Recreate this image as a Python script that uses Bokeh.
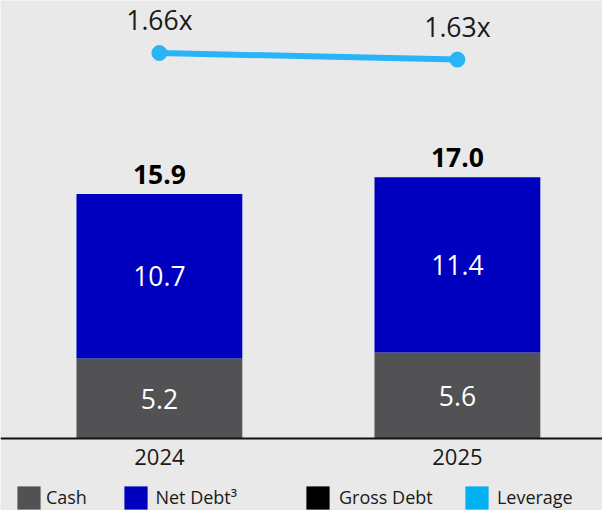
from bokeh.plotting import figure
from bokeh.models import (ColumnDataSource, Range1d, LinearAxis, FixedTicker,
                          Legend, LegendItem)
from bokeh.core.properties import value
from bokeh.embed import file_html
from bokeh.resources import INLINE

# ---- data ----
years = ["2024", "2025"]
cash = [5.2, 5.6]
net_debt = [10.7, 11.4]
gross_debt = [15.9, 17.0]
leverage = [1.66, 1.63]

# ---- style ----
CASH_C = "#525254"
NET_C = "#0000bf"
GROSS_C = "#000000"
LEV_C = "#00b0f0"
LINE_C = "#29b4f6"
BG = "#e9e9e9"
FONT = "Open Sans"
TXT = "#1a1a1a"

pos = list(range(len(years)))
src = ColumnDataSource(dict(
    x=pos,
    cash=cash,
    gross=gross_debt,
    lev=leverage,
    cash_mid=[c / 2 for c in cash],
    net_bottom=cash,
    net_top=[c + n for c, n in zip(cash, net_debt)],
    net_mid=[c + n / 2 for c, n in zip(cash, net_debt)],
    cash_lbl=[f"{v:.1f}" for v in cash],
    net_lbl=[f"{v:.1f}" for v in net_debt],
    gross_lbl=[f"{v:.1f}" for v in gross_debt],
    lev_lbl=[f"{v:.2f}x" for v in leverage],
))

p = figure(width=602, height=510, output_backend="svg", toolbar_location=None,
           x_range=Range1d(-0.5332, 1.4869), y_range=Range1d(-4.675, 28.485),
           x_axis_location=None, y_axis_location=None, min_border=0,
           background_fill_color=BG, border_fill_color=BG, outline_line_color=None)
p.grid.visible = False
p.extra_y_ranges = {"lev": Range1d(-0.4196, 1.8986)}

BW = 0.5564
gross_r = p.vbar(x="x", top="gross", bottom=0, width=BW, source=src,
                 fill_color=GROSS_C, line_color=None, visible=False)
lev_sq = p.vbar(x="x", top="lev", bottom=0, width=BW, source=src, y_range_name="lev",
                fill_color=LEV_C, line_color=None, visible=False)
cash_r = p.vbar(x="x", top="cash", bottom=0, width=BW, source=src,
                fill_color=CASH_C, line_color=None)
net_r = p.vbar(x="x", top="net_top", bottom="net_bottom", width=BW, source=src,
               fill_color=NET_C, line_color=None)

p.line("x", "lev", source=src, y_range_name="lev", line_width=6, line_color=LINE_C)
p.scatter("x", "lev", source=src, y_range_name="lev", size=15,
          fill_color=LINE_C, line_color=LINE_C)

common = dict(text_font=value(FONT), text_align="center", text_baseline="alphabetic",
              source=src)
p.text(x="x", y="cash_mid", text="cash_lbl", text_font_size="26.5px",
       text_color="white", y_offset=0, **common)
p.text(x="x", y="net_mid", text="net_lbl", text_font_size="26.5px",
       text_color="white", y_offset=0, **common)
p.text(x="x", y="gross", text="gross_lbl", text_font_size="26.5px",
       text_font_style="bold", text_color="#000000", y_offset=-19.7, **common)
p.text(x="x", y="lev", text="lev_lbl", text_font_size="26.5px", y_range_name="lev",
       text_color=TXT, y_offset=-32.5, **common)

xaxis = LinearAxis(fixed_location=0, ticker=FixedTicker(ticks=pos),
                   major_label_overrides={i: y for i, y in zip(pos, years)},
                   axis_line_width=2, axis_line_color="#111111",
                   major_tick_line_color=None, minor_tick_line_color=None,
                   major_tick_out=0, major_tick_in=0, minor_tick_out=0, minor_tick_in=0,
                   major_label_standoff=10,
                   major_label_text_font=FONT, major_label_text_font_size="22px",
                   major_label_text_color=TXT)
p.add_layout(xaxis, "below")

legend_specs = [
    ("Cash", cash_r, 13.9, 3),
    ("Net Debt\u00b3", net_r, 121.4, 5),
    ("Gross Debt", gross_r, 303.0, 7),
    ("Leverage", lev_sq, 461.9, 6),
]
for label, r, xloc, standoff in legend_specs:
    lg = Legend(items=[LegendItem(label=label, renderers=[r])], location=(xloc, -1.5),
                orientation="horizontal", padding=0, margin=0, spacing=0,
                glyph_width=29, glyph_height=29, label_standoff=standoff,
                label_text_font=FONT, label_text_font_size="18px",
                label_text_color=TXT, border_line_color=None,
                background_fill_alpha=0)
    p.add_layout(lg)

open("out.html", "w").write(file_html(p, INLINE))
